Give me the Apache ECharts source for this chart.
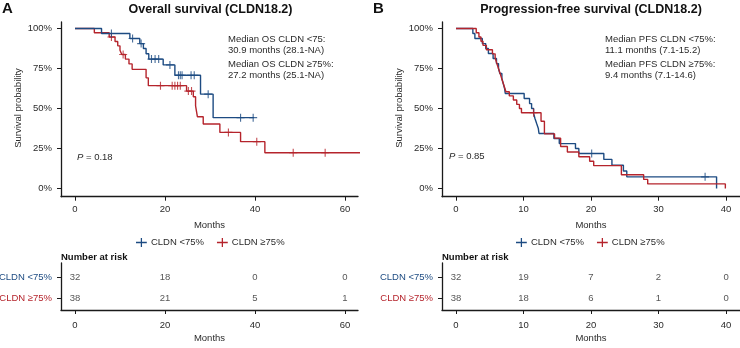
<!DOCTYPE html>
<html><head><meta charset="utf-8">
<script src="https://cdn.jsdelivr.net/npm/echarts@6/dist/echarts.min.js"></script>
<style>html,body{margin:0;padding:0;background:#fff}#c{width:740px;height:348px}</style>
</head><body><div id="c"></div>
<script>
// ---------- data ----------
const groups = ['CLDN <75%', 'CLDN ≥75%'];
const yTicks = [0, 25, 50, 75, 100];
const osTicks = [0, 20, 40, 60];
const pfsTicks = [0, 10, 20, 30, 40];

// Overall survival: [month, survival %] at each event
const osLow = [[0,100],[5.9,96.9],[12.2,93.8],[14.4,90.6],[15.2,87.5],[15.8,84.3],[16.4,80.9],[19.6,77.3],[22.2,70.8],[27.9,59.0],[30.7,44.3],[39.8,44.3]];
const osLowCens = [[8.1,96.9],[12.8,93.8],[14.7,90.6],[17.0,80.9],[17.8,80.9],[18.6,80.9],[21.1,77.3],[23.0,70.8],[23.4,70.8],[23.8,70.8],[25.8,70.8],[26.5,70.8],[29.6,59.0],[36.8,44.3],[39.6,44.3]];
const osHigh = [[0,100],[4.3,97.4],[7.6,94.7],[8.9,91.9],[9.5,89.2],[10.0,86.5],[10.4,83.8],[11.2,80.9],[12.0,77.9],[12.7,74.5],[15.8,69.2],[16.3,64.3],[24.8,60.9],[26.3,57.4],[26.8,51.6],[27.2,44.9],[28.5,40.3],[32.2,35.1],[36.8,29.3],[42.2,22.4],[65,22.4]];
const osHighCens = [[8.1,94.7],[10.7,83.8],[19.0,64.3],[21.6,64.3],[22.2,64.3],[22.8,64.3],[23.4,64.3],[25.2,60.9],[25.9,60.9],[34.1,35.1],[40.4,29.3],[48.5,22.4],[55.6,22.4]];

// Progression-free survival
const pfsLow = [[0,100],[2.5,96.9],[2.8,93.8],[3.9,90.6],[4.4,87.5],[4.8,84.4],[5.5,81.3],[6.0,78.1],[6.3,75.0],[6.5,71.9],[6.8,68.8],[7.0,65.6],[7.2,62.5],[7.3,59.4],[10.1,56.3],[10.9,53.1],[11.2,50.0],[11.5,46.9],[11.7,43.8],[11.95,40.6],[12.2,37.5],[12.3,34.4],[14.5,31.3],[15.3,28.1],[17.7,25.0],[18.2,21.9],[21.9,18.2],[23.1,14.6],[24.8,11.0],[25.3,7.3],[38.6,0]];
const pfsLowCens = [[20.1,21.9],[36.9,7.3]];
const pfsHigh = [[0,100],[3.0,97.4],[3.4,94.7],[3.7,92.1],[4.0,89.5],[4.5,86.8],[5.4,84.2],[5.8,81.6],[6.0,78.9],[6.2,76.3],[6.4,73.7],[6.6,71.1],[6.8,68.4],[7.0,65.8],[7.2,63.2],[7.4,60.5],[7.9,57.9],[8.5,55.3],[9.0,52.6],[9.4,50.0],[9.7,47.4],[12.6,42.1],[13.1,34.2],[14.6,31.5],[15.5,26.3],[16.5,22.8],[18.2,19.9],[19.8,17.1],[20.4,14.3],[24.5,8.6],[27.8,5.7],[28.4,2.9],[39.9,0]];
const pfsHighCens = [[11.5,47.4]];

// Number at risk
const osRiskTimes = [0, 20, 40, 60];
const osRiskLow = [32, 18, 0, 0];
const osRiskHigh = [38, 21, 5, 1];
const pfsRiskTimes = [0, 10, 20, 30, 40];
const pfsRiskLow = [32, 19, 7, 2, 0];
const pfsRiskHigh = [38, 18, 6, 1, 0];

// ---------- styling ----------
const BLUE = '#1d4b82', RED = '#b5242c';
const FONT = '"Liberation Sans", Arial, sans-serif';
const AX = '#1a1a1a', TXT = '#2b2b2b';
const FS = 9.5;
const plus = 'path://M-0.7,-5H0.7V-0.7H5V0.7H0.7V5H-0.7V0.7H-5V-0.7H-0.7Z';
const legendIcon = 'path://M0,4.3H12V5.7H0Z M5.3,0H6.7V10H5.3Z';

const gridA = {left: 61, top: 22, width: 297, height: 174.7};
const gridAR = {left: 61, top: 263, width: 297, height: 47};
const gridB = {left: 442, top: 22, width: 298, height: 174.7};
const gridBR = {left: 442, top: 263, width: 298, height: 47};

function xAx(grid, min, max, ticks, labelMargin, nameGap) {
  return {
    type: 'value', gridIndex: grid, min, max,
    name: 'Months', nameLocation: 'middle', nameGap,
    nameTextStyle: {fontSize: FS, color: TXT, fontFamily: FONT},
    axisLine: {show: true, onZero: false, lineStyle: {color: AX, width: 1.3}},
    axisTick: {show: true, length: 4, customValues: ticks, lineStyle: {color: AX, width: 1}},
    axisLabel: {customValues: ticks, margin: labelMargin, fontSize: FS, color: TXT, fontFamily: FONT},
    splitLine: {show: false}
  };
}
function yAxMain(grid) {
  return {
    type: 'value', gridIndex: grid, min: -5.1, max: 104.1,
    axisLine: {show: true, onZero: false, lineStyle: {color: AX, width: 1.3}},
    axisTick: {show: true, length: 4, customValues: yTicks, lineStyle: {color: AX, width: 1}},
    axisLabel: {customValues: yTicks, formatter: '{value}%', margin: 9, fontSize: FS, color: TXT, fontFamily: FONT},
    splitLine: {show: false}
  };
}
function yAxRisk(grid) {
  return {
    type: 'value', gridIndex: grid, min: 0.432, max: 2.714,
    axisLine: {show: true, onZero: false, lineStyle: {color: AX, width: 1.3}},
    axisTick: {show: true, length: 4, customValues: [1, 2], lineStyle: {color: AX, width: 1}},
    axisLabel: {
      customValues: [1, 2], margin: 9, fontSize: FS, fontFamily: FONT,
      formatter: v => v === 2 ? '{b|' + groups[0] + '}' : '{r|' + groups[1] + '}',
      rich: {b: {color: BLUE, fontSize: FS, fontFamily: FONT}, r: {color: RED, fontSize: FS, fontFamily: FONT}}
    },
    splitLine: {show: false}
  };
}
function km(name, data, color, ax) {
  return {type: 'line', name, data, step: 'end', showSymbol: false, symbol: 'none',
    xAxisIndex: ax, yAxisIndex: ax, color, lineStyle: {color, width: 1.4},
    clip: true, silent: true, animation: false, z: 3};
}
function cens(data, color, ax) {
  return {type: 'scatter', data, symbol: plus, symbolSize: 8, xAxisIndex: ax, yAxisIndex: ax,
    itemStyle: {color}, silent: true, animation: false, z: 4};
}
function risk(times, counts, row, ax) {
  return {type: 'scatter', xAxisIndex: ax, yAxisIndex: ax,
    data: times.map((t, i) => [t, row, counts[i]]),
    symbol: 'circle', symbolSize: 0.1, itemStyle: {color: 'rgba(0,0,0,0)'},
    label: {show: true, position: 'inside', formatter: p => String(p.value[2]),
      fontSize: FS, color: TXT, fontFamily: FONT},
    silent: true, animation: false};
}
function txt(x, y, text, opts) {
  opts = opts || {};
  return {type: 'text', x, y, rotation: opts.rot || 0, silent: true,
    style: Object.assign({text, font: (opts.weight || 'normal') + ' ' + (opts.size || FS) + 'px ' + FONT,
      fill: opts.color || TXT, align: opts.align || 'left', verticalAlign: 'middle',
      textAlign: opts.align || 'left', textVerticalAlign: 'middle'}, opts.extra || {})};
}
const pRich = {rich: {i: {fontStyle: 'italic', fontSize: FS, fontFamily: FONT, fill: TXT, color: TXT}}};

const chart = echarts.init(document.getElementById('c'), null, {renderer: 'canvas'});
chart.setOption({
  animation: false,
  backgroundColor: '#fff',
  textStyle: {fontFamily: FONT},
  grid: [
    Object.assign({outerBoundsMode: 'none'}, gridA),
    Object.assign({outerBoundsMode: 'none'}, gridAR),
    Object.assign({outerBoundsMode: 'none'}, gridB),
    Object.assign({outerBoundsMode: 'none'}, gridBR)
  ],
  xAxis: [
    xAx(0, -3.11, 62.9, osTicks, 8, 24),
    xAx(1, -3.11, 62.9, osTicks, 10, 23),
    xAx(2, -2.07, 42.07, pfsTicks, 8, 24),
    xAx(3, -2.07, 42.07, pfsTicks, 10, 23)
  ],
  yAxis: [yAxMain(0), yAxRisk(1), yAxMain(2), yAxRisk(3)],
  legend: [
    {left: 136, top: 237.5, padding: 0, data: groups.map(g => ({name: g, icon: legendIcon})), itemWidth: 11, itemHeight: 9, itemGap: 13,
      textStyle: {fontSize: FS, color: TXT, fontFamily: FONT, padding: [0, 0, 0, -1]}, selectedMode: false},
    {left: 516, top: 237.5, padding: 0, data: groups.map(g => ({name: g, icon: legendIcon})), itemWidth: 11, itemHeight: 9, itemGap: 13,
      textStyle: {fontSize: FS, color: TXT, fontFamily: FONT, padding: [0, 0, 0, -1]}, selectedMode: false}
  ],
  series: [
    km(groups[1], osHigh, RED, 0),
    km(groups[0], osLow, BLUE, 0),
    cens(osHighCens, RED, 0),
    cens(osLowCens, BLUE, 0),
    risk(osRiskTimes, osRiskLow, 2, 1),
    risk(osRiskTimes, osRiskHigh, 1, 1),
    km(groups[0], pfsLow, BLUE, 2),
    km(groups[1], pfsHigh, RED, 2),
    cens(pfsLowCens, BLUE, 2),
    cens(pfsHighCens, RED, 2),
    risk(pfsRiskTimes, pfsRiskLow, 2, 3),
    risk(pfsRiskTimes, pfsRiskHigh, 1, 3)
  ],
  graphic: [
    txt(2, 9, 'A', {weight: 'bold', size: 15, color: '#111'}),
    txt(373, 9, 'B', {weight: 'bold', size: 15, color: '#111'}),
    txt(210.5, 10, 'Overall survival (CLDN18.2)', {weight: 'bold', size: 12.5, color: '#111', align: 'center'}),
    txt(591, 10, 'Progression-free survival (CLDN18.2)', {weight: 'bold', size: 12.5, color: '#111', align: 'center'}),
    txt(228, 39.5, 'Median OS CLDN <75:'),
    txt(228, 50.5, '30.9 months (28.1-NA)'),
    txt(228, 64, 'Median OS CLDN ≥75%:'),
    txt(228, 75, '27.2 months (25.1-NA)'),
    txt(605, 39.5, 'Median PFS CLDN <75%:'),
    txt(605, 50.5, '11.1 months (7.1-15.2)'),
    txt(605, 64, 'Median PFS CLDN ≥75%:'),
    txt(605, 75, '9.4 months (7.1-14.6)'),
    txt(77, 157, '{i|P} = 0.18', {extra: pRich}),
    txt(449, 156, '{i|P} = 0.85', {extra: pRich}),
    txt(18, 108, 'Survival probability', {rot: Math.PI / 2, align: 'center'}),
    txt(399, 108, 'Survival probability', {rot: Math.PI / 2, align: 'center'}),
    txt(61, 257, 'Number at risk', {weight: 'bold', color: '#111'}),
    txt(442, 257, 'Number at risk', {weight: 'bold', color: '#111'})
  ]
});
</script>
</body></html>
